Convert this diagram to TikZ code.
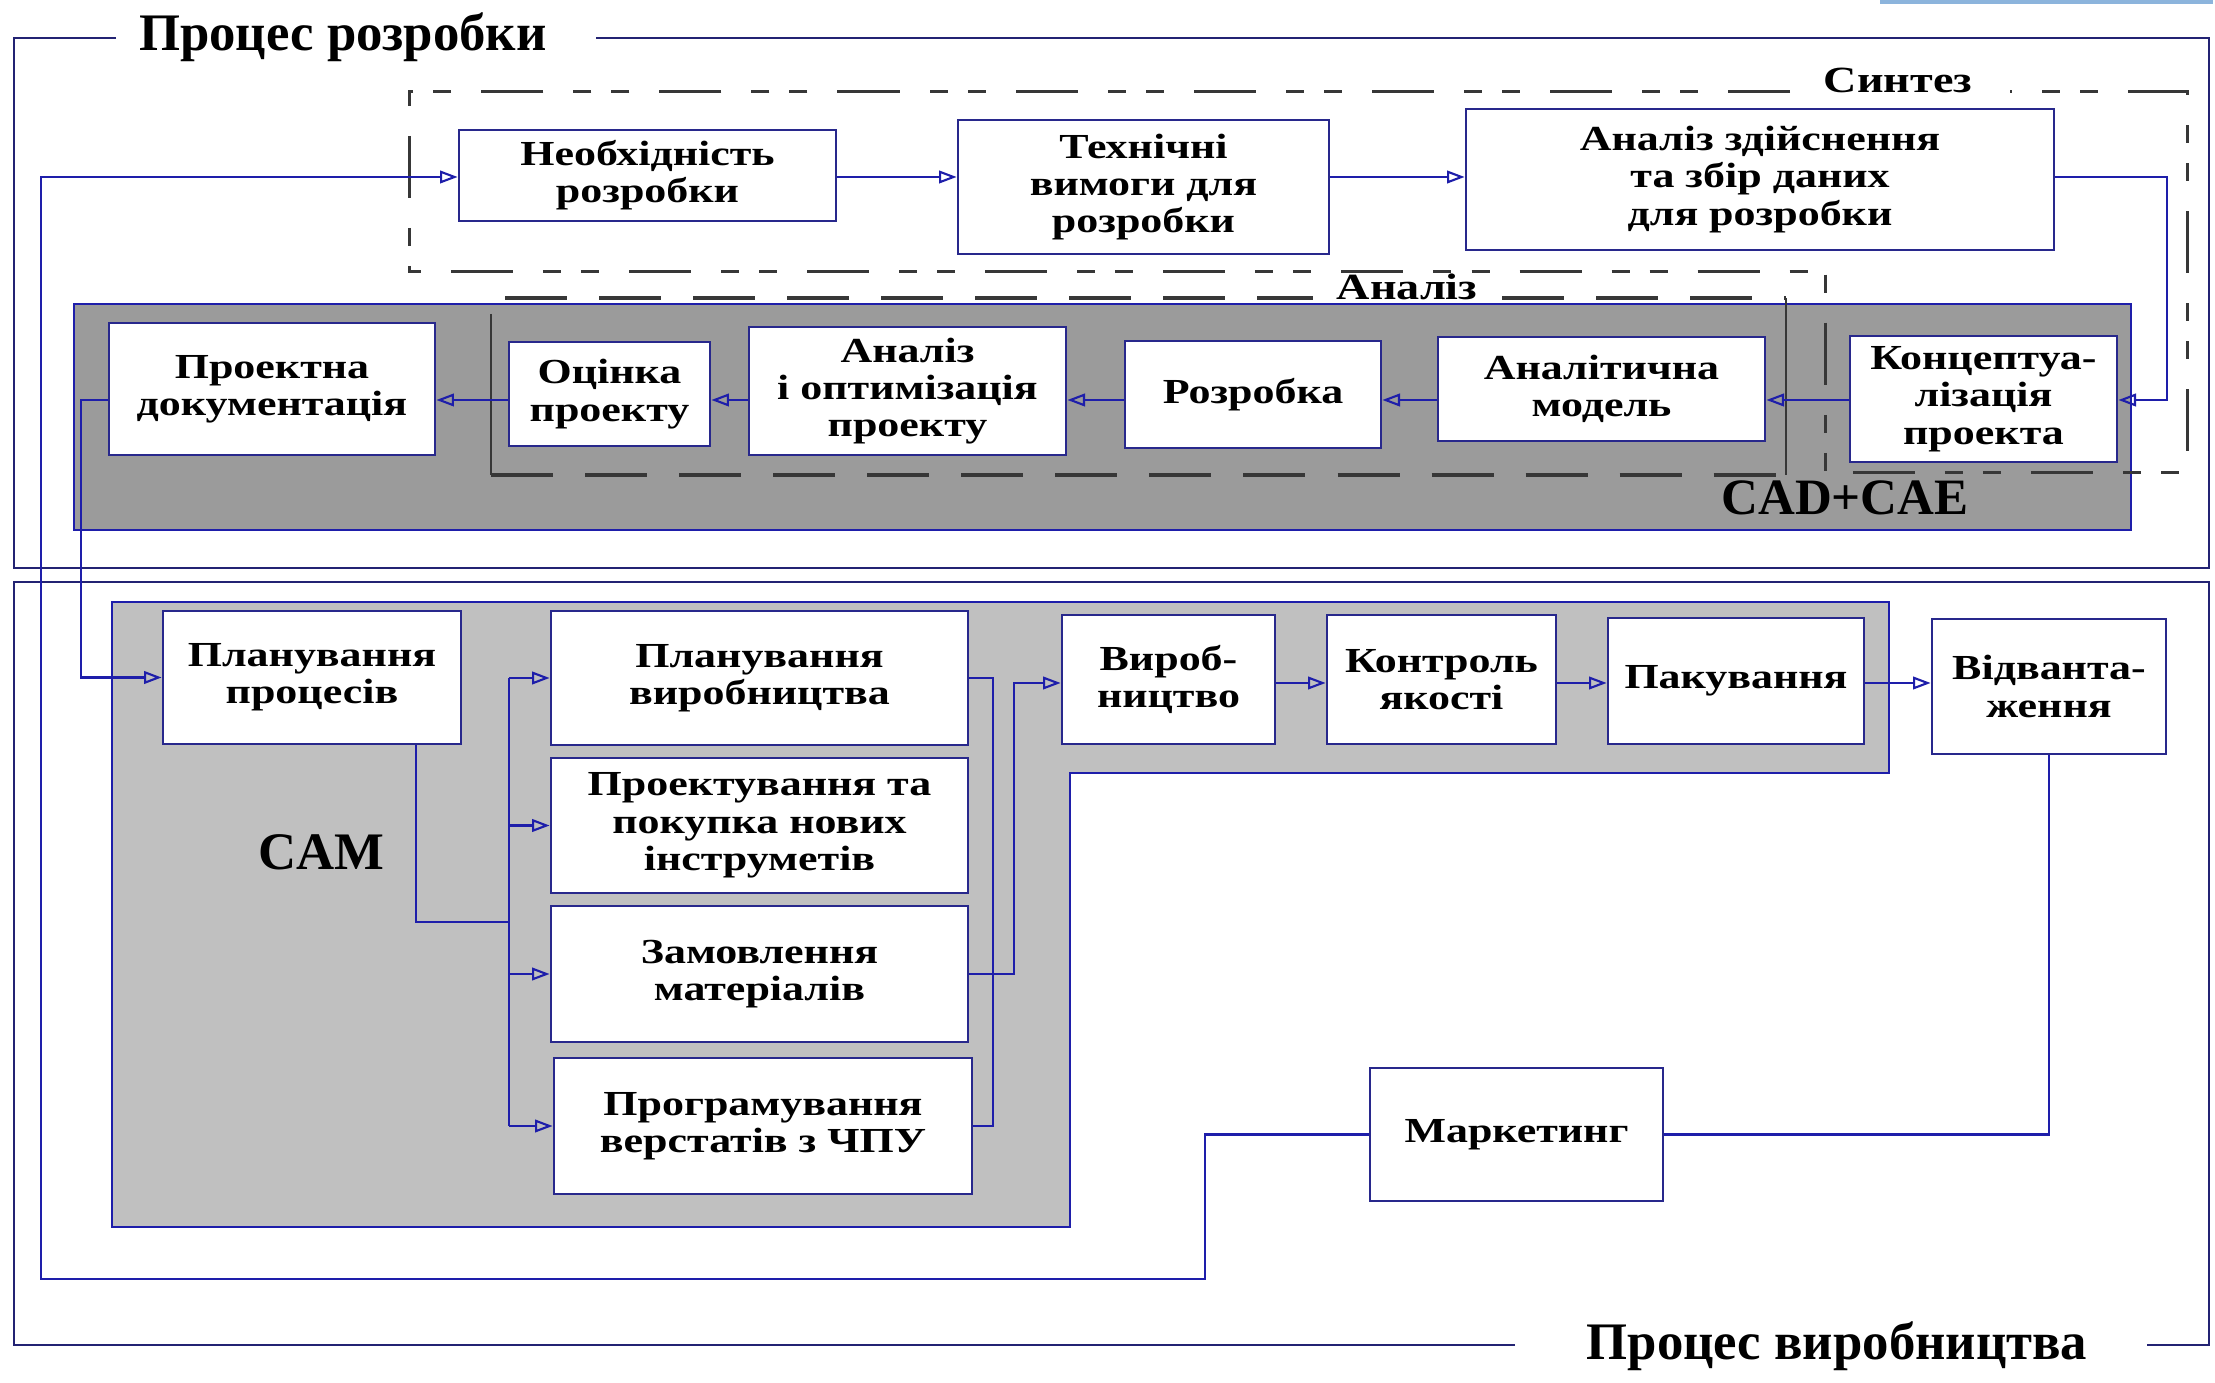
\documentclass[tikz,border=0pt]{standalone}
\usepackage{fontspec}
\setmainfont{Liberation Serif}
\newfontfamily\widefont{Liberation Serif}[FakeStretch=1.25]
\usetikzlibrary{arrows.meta}
\definecolor{LineBlue}{RGB}{30,30,170}
\definecolor{BoxBlue}{RGB}{40,40,140}
\definecolor{FrameBlue}{RGB}{35,35,115}
\definecolor{CadGray}{RGB}{155,155,155}
\definecolor{CamGray}{RGB}{192,192,192}
\definecolor{DashGray}{RGB}{55,55,55}
\definecolor{SlideBlue}{RGB}{140,180,220}
\newcommand{\blk}[6]{%
  \node[blk,minimum width={(#4-#2)*0.01cm},minimum height={(#5-#3)*0.01cm}] (#1) at ({(#2+#4)/2},{(#3+#5)/2}) {#6};}
\tikzset{
  blk/.style={draw=BoxBlue,fill=white,line width=0.8pt,align=center,inner sep=1pt,
    font=\widefont\bfseries\fontsize{10}{10.6}\selectfont},
  lbl/.style={font=\widefont\bfseries\fontsize{10.5}{12}\selectfont,inner sep=0pt},
  ttl/.style={font=\bfseries\fontsize{15}{17}\selectfont,inner sep=0pt},
  flow/.style={LineBlue,line width=0.6pt,-{Triangle[open,length=5pt,width=3.6pt]}},
  wire/.style={LineBlue,line width=0.6pt},
  frame/.style={FrameBlue,line width=0.8pt},
  synth/.style={DashGray,line width=0.85pt,dash pattern=on 0.62cm off 0.3cm on 0.18cm off 0.2cm on 0.18cm off 0.3cm},
  anal/.style={DashGray,line width=0.9pt,dash pattern=on 0.62cm off 0.32cm}
}
\begin{document}
\begin{tikzpicture}[x=0.01cm,y=-0.01cm]
  \useasboundingbox (0,0) rectangle (2215,1383);
  \fill[SlideBlue] (1880,0) rectangle (2213,4);
  \draw[frame] (116,38) -- (14,38) -- (14,568) -- (2209,568) -- (2209,38) -- (596,38);
  \draw[frame] (1515,1345) -- (14,1345) -- (14,582) -- (2209,582) -- (2209,1345) -- (2147,1345);
  \node[ttl] (tdev) at (343,37) {Процес розробки};
  \node[ttl] (tprod) at (1837,1346) {Процес виробництва};
  \draw[LineBlue,line width=0.8pt,fill=CadGray] (74,304) rectangle (2131,530);
  \draw[LineBlue,line width=0.8pt,fill=CamGray] (112,602) -- (1889,602) -- (1889,773) -- (1070,773)
    -- (1070,1227) -- (112,1227) -- cycle;
  \draw[synth] (1790,92) -- (409,92) -- (409,272) -- (1825,272) -- (1825,473) -- (2187,473)
    -- (2187,92) -- (2010,92);
  \draw[anal] (505,298) -- (1313,298) (1502,298) -- (1786,298) (491,475) -- (1786,475);
  \draw[DashGray,line width=0.6pt] (491,314) -- (491,475) (1786,298) -- (1786,475);
  \node[lbl] (lsyn) at (1898,80) {Синтез};
  \node[lbl] (lan) at (1407,287) {Аналіз};
  \node[font=\bfseries\fontsize{14.5}{16}\selectfont] (lcad) at (1845,498) {CAD+CAE};
  \node[font=\bfseries\fontsize{15}{16}\selectfont] (lcam) at (321,852) {CAM};
  \blk{nd}{459}{130}{836}{221}{Необхідність\\розробки}
  \blk{tv}{958}{120}{1329}{254}{Технічні\\вимоги для\\розробки}
  \blk{az}{1466}{109}{2054}{250}{Аналіз здійснення\\та збір даних\\для розробки}
  \blk{kp}{1850}{336}{2117}{462}{Концептуа-\\лізація\\проекта}
  \blk{am}{1438}{337}{1765}{441}{Аналітична\\модель}
  \blk{rz}{1125}{341}{1381}{448}{Розробка}
  \blk{ao}{749}{327}{1066}{455}{Аналіз\\і оптимізація\\проекту}
  \blk{op}{509}{342}{710}{446}{Оцінка\\проекту}
  \blk{pd}{109}{323}{435}{455}{Проектна\\документація}
  \blk{pp}{163}{611}{461}{744}{Планування\\процесів}
  \blk{pv}{551}{611}{968}{745}{Планування\\виробництва}
  \blk{pk}{551}{758}{968}{893}{Проектування та\\покупка нових\\інструметів}
  \blk{zm}{551}{906}{968}{1042}{Замовлення\\матеріалів}
  \blk{pr}{554}{1058}{972}{1194}{Програмування\\верстатів з ЧПУ}
  \blk{vr}{1062}{615}{1275}{744}{Вироб-\\ництво}
  \blk{kj}{1327}{615}{1556}{744}{Контроль\\якості}
  \blk{pa}{1608}{618}{1864}{744}{Пакування}
  \blk{vd}{1932}{619}{2166}{754}{Відванта-\\ження}
  \blk{mk}{1370}{1068}{1663}{1201}{Маркетинг}
  \coordinate (toprow) at (0,177);
  \coordinate (cadrow) at (0,400);
  \coordinate (prodrow) at (0,683);
  \coordinate (loopa) at (1205,1279);
  \coordinate (loopb) at (41,1279);
  \coordinate (feedr) at (2167,0);
  \coordinate (docx) at (81,0);
  \coordinate (ppout) at (416,0);
  \coordinate (busl) at (509,922);
  \coordinate (outa) at (993,0);
  \coordinate (outb) at (1014,0);
  \draw[flow] (mk.west) -| (loopa) -- (loopb) |- (nd.west |- toprow);
  \draw[flow] (nd.east |- toprow) -- (tv.west |- toprow);
  \draw[flow] (tv.east |- toprow) -- (az.west |- toprow);
  \draw[flow] (az.east |- toprow) -| (feedr |- cadrow) -- (kp.east |- cadrow);
  \draw[flow] (kp.west |- cadrow) -- (am.east |- cadrow);
  \draw[flow] (am.west |- cadrow) -- (rz.east |- cadrow);
  \draw[flow] (rz.west |- cadrow) -- (ao.east |- cadrow);
  \draw[flow] (ao.west |- cadrow) -- (op.east |- cadrow);
  \draw[flow] (op.west |- cadrow) -- (pd.east |- cadrow);
  \draw[flow] (pd.west |- cadrow) -| (docx |- pp.west) -- (pp.west);
  \draw[wire] (ppout |- pp.south) |- (busl);
  \draw[wire] (busl |- pv.west) -- (busl |- pr.west);
  \foreach \b in {pv,pk,zm,pr}
    \draw[flow] (busl |- \b.west) -- (\b.west);
  \draw[wire] (pv.east) -| (outa |- pr.east) -- (pr.east);
  \draw[flow] (zm.east) -| (outb |- prodrow) -- (vr.west |- prodrow);
  \draw[flow] (vr.east |- prodrow) -- (kj.west |- prodrow);
  \draw[flow] (kj.east |- prodrow) -- (pa.west |- prodrow);
  \draw[flow] (pa.east |- prodrow) -- (vd.west |- prodrow);
  \draw[wire] (vd.south) |- (mk.east);
\end{tikzpicture}
\end{document}
